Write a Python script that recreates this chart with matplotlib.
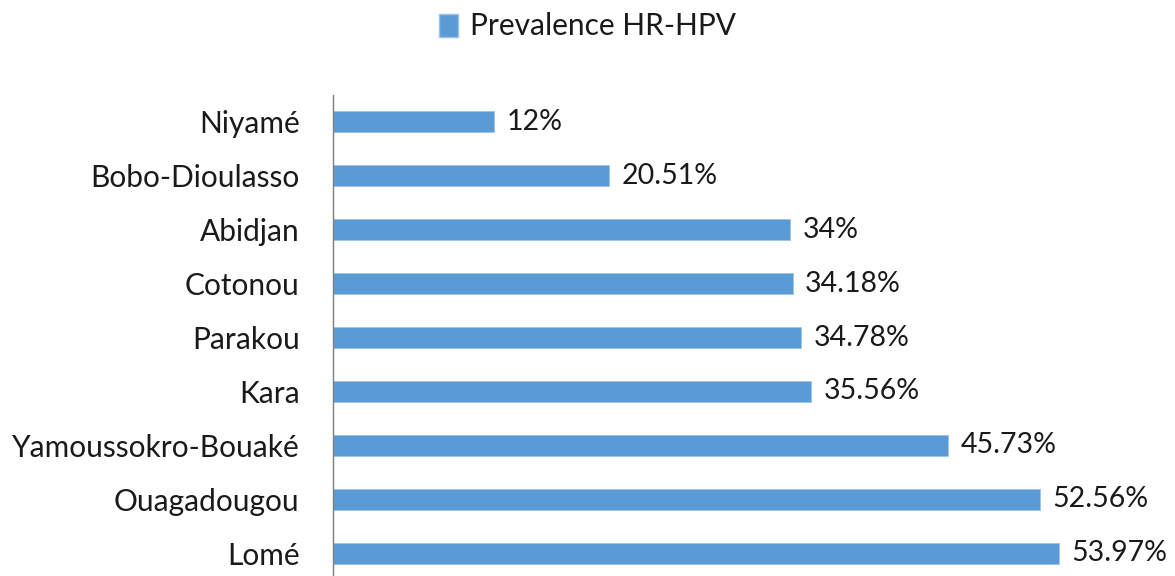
import matplotlib
matplotlib.use("Agg")
import matplotlib.pyplot as plt
from matplotlib.patches import Patch

categories = ["Niyamé", "Bobo-Dioulasso", "Abidjan", "Cotonou", "Parakou", "Kara",
              "Yamoussokro-Bouaké", "Ouagadougou", "Lomé"]
values = [12, 20.51, 34, 34.18, 34.78, 35.56, 45.73, 52.56, 53.97]
value_labels = ["12%", "20.51%", "34%", "34.18%", "34.78%", "35.56%", "45.73%", "52.56%", "53.97%"]
series_name = "Prevalence HR-HPV"

plt.rcParams['font.family'] = ['Lato', 'DejaVu Sans']
BAR = "#5B9BD5"
TXT = "#1a1a1a"
FS = 21.5
VFS = 20.5

fig = plt.figure(figsize=(11.75, 5.76), dpi=100)
W, H = 1175, 576
left_px, right_px = 333, 333 + 62 * 13.45
top_px, bot_px = 95, 580
ax = fig.add_axes([left_px / W, 1 - bot_px / H, (right_px - left_px) / W, (bot_px - top_px) / H])

n = len(categories)
ypos = list(range(n))
ax.barh(ypos, values, height=0.39, color=BAR, edgecolor="#9cc3e6", linewidth=0.6)
ax.set_ylim(n - 0.5, -0.5)
ax.set_xlim(0, 62)
ax.set_yticks(ypos)
ax.set_yticklabels(categories, fontsize=FS, color=TXT)
ax.tick_params(axis='y', length=0, pad=24)
ax.set_xticks([])
for s in ["top", "right", "bottom"]:
    ax.spines[s].set_visible(False)
ax.spines["left"].set_color("#7f7f7f")
ax.spines["left"].set_linewidth(1.0)

for y, v, lab in zip(ypos, values, value_labels):
    ax.annotate(lab, (v, y), xytext=(9, 0), textcoords="offset points",
                va="center", ha="left", fontsize=VFS, color=TXT)

fig.legend(handles=[Patch(facecolor=BAR, edgecolor="#9cc3e6", label=series_name)],
           loc="upper center", bbox_to_anchor=(0.5, 1.025), frameon=False,
           fontsize=FS, handlelength=0.62, handleheight=0.8, handletextpad=0.4,
           labelcolor=TXT)

fig.savefig("out.png", dpi=100)
